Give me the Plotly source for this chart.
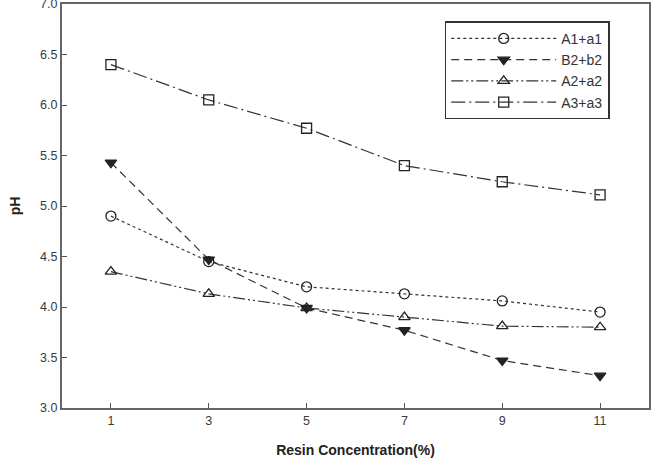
import plotly.graph_objects as go

x_vals = [1, 3, 5, 7, 9, 11]
a1 = [4.90, 4.45, 4.20, 4.13, 4.06, 3.95]
b2 = [5.43, 4.47, 3.99, 3.77, 3.47, 3.32]
a2 = [4.35, 4.13, 3.99, 3.90, 3.81, 3.80]
a3 = [6.40, 6.05, 5.77, 5.40, 5.24, 5.11]
names = ["A1+a1", "B2+b2", "A2+a2", "A3+a3"]
x_ticks = [1, 3, 5, 7, 9, 11]
y_ticks = [3.0, 3.5, 4.0, 4.5, 5.0, 5.5, 6.0, 6.5, 7.0]

styles = [
    dict(dash="dot", symbol="circle-open"),
    dict(dash="8px,5px", symbol="triangle-down"),
    dict(dash="12px,3px,2px,3px,2px,3px", symbol="triangle-up-open"),
    dict(dash="14px,4px,2px,4px", symbol="square-open"),
]

fig = go.Figure()
for name, ys, st in zip(names, [a1, b2, a2, a3], styles):
    fig.add_trace(go.Scatter(
        x=x_vals, y=ys, name=name, mode="lines+markers",
        line=dict(color="#333", width=1.2, dash=st["dash"]),
        marker=dict(symbol=st["symbol"], size=10, color="#222",
                    line=dict(color="#222", width=1.3)),
    ))

axis_common = dict(
    showline=True, linecolor="#666", linewidth=2, mirror=True,
    showgrid=False, zeroline=False, ticks="inside", ticklen=5,
    tickcolor="#555", ticklabeloverflow="allow", automargin=False,
    tickfont=dict(family="Liberation Sans, Arial", size=12.5, color="#3a3a3a"),
)

fig.update_layout(
    width=660, height=470,
    margin=dict(l=62, r=11, t=4, b=62),
    plot_bgcolor="white", paper_bgcolor="white",
    xaxis=dict(range=[0, 12], tickvals=x_ticks, **axis_common,
               title=dict(text="<b>Resin Concentration(%)</b>", standoff=18,
                          font=dict(family="Liberation Sans, Arial", size=14, color="#222"))),
    yaxis=dict(range=[3.0, 7.0], tickvals=y_ticks, tickformat=".1f", **axis_common,
               title=dict(text="<b>pH</b>", standoff=16,
                          font=dict(family="Liberation Sans, Arial", size=14, color="#222"))),
    legend=dict(x=0.652, y=0.957, xanchor="left", yanchor="top",
                bordercolor="#333", borderwidth=1.5, bgcolor="white",
                itemwidth=105, tracegroupgap=0,
                font=dict(family="Liberation Sans, Arial", size=14, color="#333")),
)

fig.write_html("out.html")
